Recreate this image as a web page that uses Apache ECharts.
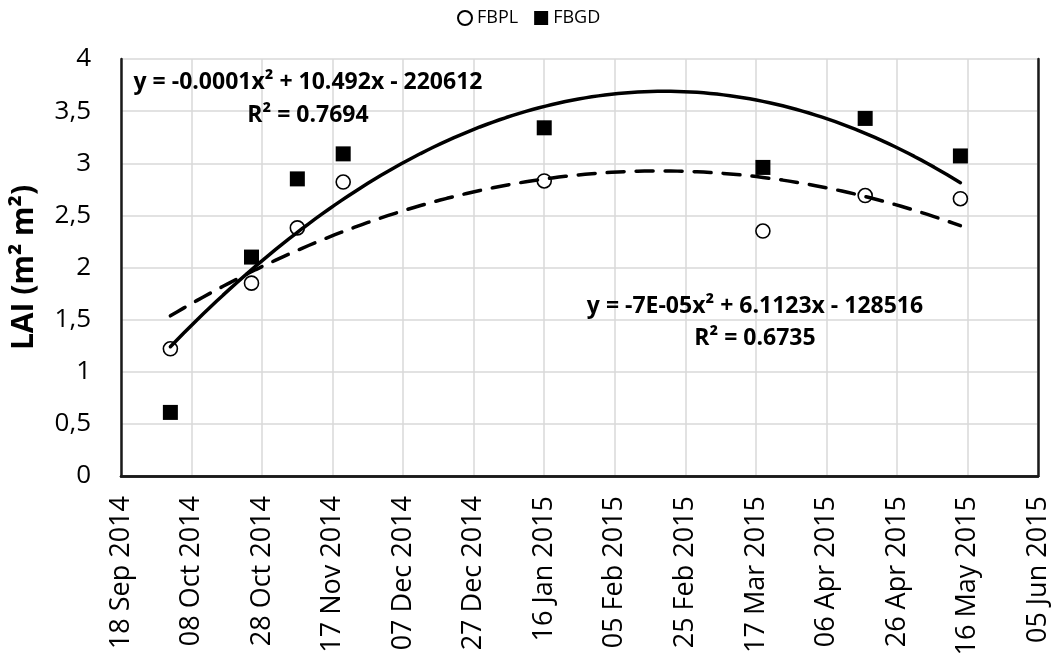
<!DOCTYPE html>
<html>
<head>
<meta charset="utf-8">
<script src="https://cdn.jsdelivr.net/npm/echarts@6/dist/echarts.min.js"></script>
<style>
html,body{margin:0;padding:0;background:#fff;}
#main{width:1054px;height:662px;}
</style>
</head>
<body>
<div id="main"></div>
<script>
// ---- data ----
const sampleDates = ['2014-10-02','2014-10-25','2014-11-07','2014-11-20','2015-01-16','2015-03-19','2015-04-17','2015-05-14'];
const fbplValues = [1.22, 1.85, 2.38, 2.82, 2.83, 2.35, 2.69, 2.66];
const fbgdValues = [0.61, 2.10, 2.85, 3.09, 3.34, 2.96, 3.43, 3.07];
const xMinDate = '2014-09-18';
const xMaxDate = '2015-06-05';
const xStepDays = 20;
const yTicks = [0, 0.5, 1, 1.5, 2, 2.5, 3, 3.5, 4];
const eqFBGD = ['y = -0.0001x² + 10.492x - 220612', 'R² = 0.7694'];
const eqFBPL = ['y = -7E-05x² + 6.1123x - 128516', 'R² = 0.6735'];
const monthNames = ['Jan','Feb','Mar','Apr','May','Jun','Jul','Aug','Sep','Oct','Nov','Dec'];

// Excel-style serial date numbers
const EPOCH = Date.UTC(1899, 11, 30);
function toSerial(s){ const p = s.split('-').map(Number); return (Date.UTC(p[0], p[1]-1, p[2]) - EPOCH) / 86400000; }
function fmtSerial(v){
  const d = new Date(EPOCH + Math.round(v) * 86400000);
  const dd = String(d.getUTCDate()).padStart(2,'0');
  return dd + ' ' + monthNames[d.getUTCMonth()] + ' ' + d.getUTCFullYear();
}
const xs = sampleDates.map(toSerial);

// least-squares quadratic (trendline, as the spreadsheet computes it)
function quadFit(x, y){
  const n = x.length; const mx = x.reduce((a,b)=>a+b,0)/n;
  const u = x.map(v=>v-mx);
  let S = [0,0,0,0,0], T = [0,0,0];
  for(let i=0;i<n;i++){ let p=1; for(let k=0;k<5;k++){ S[k]+=p; if(k<3) T[k]+=p*y[i]; p*=u[i]; } }
  const A = [[S[0],S[1],S[2],T[0]],[S[1],S[2],S[3],T[1]],[S[2],S[3],S[4],T[2]]];
  for(let i=0;i<3;i++){ for(let j=i+1;j<3;j++){ const f=A[j][i]/A[i][i]; for(let k=i;k<4;k++) A[j][k]-=f*A[i][k]; } }
  const c=[0,0,0];
  for(let i=2;i>=0;i--){ let s=A[i][3]; for(let k=i+1;k<3;k++) s-=A[i][k]*c[k]; c[i]=s/A[i][i]; }
  return xv => { const t = xv-mx; return c[0]+c[1]*t+c[2]*t*t; };
}
function trendPoints(x, y){
  const f = quadFit(x, y); const a = Math.min(...x), b = Math.max(...x); const out=[];
  const N = 120; for(let i=0;i<=N;i++){ const xv = a + (b-a)*i/N; out.push([xv, f(xv)]); }
  return out;
}

const chart = echarts.init(document.getElementById('main'));
const FONT = 'Open Sans';
const xMin = toSerial(xMinDate), xMax = toSerial(xMaxDate);
const frameLine = { show: true, lineStyle: { color: '#1a1a1a', width: 2.5 } };
const eqFont = 'bold 23px "Open Sans"';
chart.setOption({
  backgroundColor: '#fff',
  animation: false,
  textStyle: { fontFamily: FONT },
  legend: {
    data: ['FBPL', 'FBGD'],
    top: 4, left: 452,
    itemWidth: 14, itemHeight: 14, itemGap: 16,
    textStyle: { fontFamily: FONT, fontSize: 18, color: '#000' }
  },
  grid: { left: 121, top: 59, right: 16, bottom: 186, show: false, containLabel: false },
  xAxis: [{
    type: 'value',
    min: xMin, max: xMax, interval: xStepDays,
    axisLine: frameLine, axisTick: { show: false },
    splitLine: { show: true, lineStyle: { color: '#d9d9d9', width: 1.5 } },
    axisLabel: { rotate: 90, margin: 20, fontFamily: FONT, fontSize: 27, color: '#000', formatter: fmtSerial }
  }, {
    type: 'value', position: 'top', min: xMin, max: xMax, interval: xStepDays,
    axisLine: frameLine, axisTick: { show: false }, axisLabel: { show: false }, splitLine: { show: false }
  }],
  yAxis: [{
    type: 'value',
    min: yTicks[0], max: yTicks[yTicks.length-1], interval: yTicks[1]-yTicks[0],
    name: 'LAI (m² m²)', nameLocation: 'middle', nameRotate: 90, nameGap: 82,
    nameTextStyle: { fontFamily: FONT, fontSize: 30, fontWeight: 'bold', color: '#000' },
    axisLine: frameLine, axisTick: { show: false },
    splitLine: { show: true, lineStyle: { color: '#d9d9d9', width: 1.5 } },
    axisLabel: { margin: 30, fontFamily: FONT, fontSize: 26, color: '#000', formatter: v => String(v).replace('.', ',') }
  }, {
    type: 'value', position: 'right',
    min: yTicks[0], max: yTicks[yTicks.length-1], interval: yTicks[1]-yTicks[0],
    axisLine: frameLine, axisTick: { show: false }, axisLabel: { show: false }, splitLine: { show: false }
  }],
  series: [
    { name: 'FBPL', type: 'scatter', z: 2, symbol: 'circle', symbolSize: 14,
      itemStyle: { color: '#fff', borderColor: '#000', borderWidth: 1.6, opacity: 1 },
      data: xs.map((x,i)=>[x, fbplValues[i]]) },
    { name: 'FBGD', type: 'scatter', z: 2, symbol: 'rect', symbolSize: 15,
      itemStyle: { color: '#000', opacity: 1 },
      data: xs.map((x,i)=>[x, fbgdValues[i]]) },
    { name: 'FBGD trend', type: 'line', z: 3, showSymbol: false, symbol: 'none', smooth: false,
      lineStyle: { color: '#000', width: 3.5, cap: 'round' },
      data: trendPoints(xs, fbgdValues) },
    { name: 'FBPL trend', type: 'line', z: 3, showSymbol: false, symbol: 'none', smooth: false,
      lineStyle: { color: '#000', width: 3.5, type: [17, 12], cap: 'round' },
      data: trendPoints(xs, fbplValues) }
  ],
  graphic: [
    { type: 'text', x: 308, y: 82, z: 10, style: { text: eqFBGD[0], font: eqFont, fill: '#000', align: 'center', verticalAlign: 'middle' } },
    { type: 'text', x: 308, y: 115, z: 10, style: { text: eqFBGD[1], font: eqFont, fill: '#000', align: 'center', verticalAlign: 'middle' } },
    { type: 'text', x: 755, y: 306, z: 10, style: { text: eqFBPL[0], font: eqFont, fill: '#000', align: 'center', verticalAlign: 'middle' } },
    { type: 'text', x: 755, y: 338, z: 10, style: { text: eqFBPL[1], font: eqFont, fill: '#000', align: 'center', verticalAlign: 'middle' } }
  ]
});
</script>
</body>
</html>
